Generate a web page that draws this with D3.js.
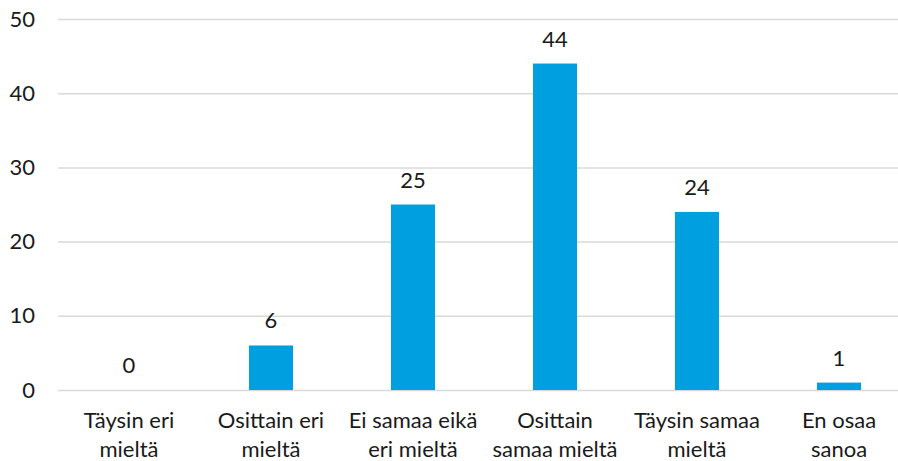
<!DOCTYPE html>
<html>
<head>
<meta charset="utf-8">
<script src="https://cdn.jsdelivr.net/npm/d3@7"></script>
<style>
  body { margin: 0; background: #fff; }
  text { font-family: Lato, "Open Sans", sans-serif; fill: #1a1a1a; }
</style>
</head>
<body>
<svg></svg>
<script>
// vastausvaihtoehdot ja osuudet (%)
var categories = [
  ["Täysin eri", "mieltä"],
  ["Osittain eri", "mieltä"],
  ["Ei samaa eikä", "eri mieltä"],
  ["Osittain", "samaa mieltä"],
  ["Täysin samaa", "mieltä"],
  ["En osaa", "sanoa"]
];
var values = [0, 6, 25, 44, 24, 1];
var yTicks = [0, 10, 20, 30, 40, 50];

var width = 898, height = 461;
var plotLeft = 58, plotTop = 19, plotBottom = 390;

var svg = d3.select("svg")
    .attr("width", width)
    .attr("height", height);

var x = d3.scaleBand()
    .domain(d3.range(categories.length))
    .range([plotLeft, plotLeft + 142 * categories.length])
    .paddingInner(0.69)
    .paddingOuter(0.345);

var y = d3.scaleLinear()
    .domain([0, 50])
    .range([plotBottom, plotTop]);

// gridlines + labels
var yAxis = d3.axisLeft(y)
    .tickValues(yTicks)
    .tickSize(-(width - plotLeft))
    .tickPadding(23);

svg.append("g")
    .attr("transform", "translate(" + plotLeft + ",0)")
    .call(yAxis)
    .call(g => g.select(".domain").remove())
    .call(g => g.selectAll(".tick line").attr("stroke", "#d9d9d9").attr("stroke-width", 1.5))
    .call(g => g.selectAll(".tick text").attr("font-size", 22).style("fill", "#1a1a1a"));

svg.selectAll(".bar")
  .data(values)
  .enter()
    .append("rect")
    .attr("class", "bar")
    .attr("x", (d, i) => x(i))
    .attr("width", x.bandwidth())
    .attr("y", d => y(d))
    .attr("height", d => plotBottom - y(d))
    .attr("fill", "#009fdf");

svg.selectAll(".val")
  .data(values)
  .enter()
    .append("text")
    .attr("class", "val")
    .attr("x", (d, i) => x(i) + x.bandwidth() / 2)
    .attr("y", d => y(d) - 17)
    .attr("text-anchor", "middle")
    .attr("font-size", 22)
    .text(d => d);

var cat = svg.selectAll(".cat")
  .data(categories)
  .enter()
    .append("text")
    .attr("class", "cat")
    .attr("text-anchor", "middle")
    .attr("font-size", 22)
    .attr("transform", (d, i) => "translate(" + (x(i) + x.bandwidth() / 2) + ",428)");

cat.selectAll("tspan")
  .data(d => d)
  .enter()
    .append("tspan")
    .attr("x", 0)
    .attr("y", (d, i) => i * 29)
    .text(d => d);
</script>
</body>
</html>
